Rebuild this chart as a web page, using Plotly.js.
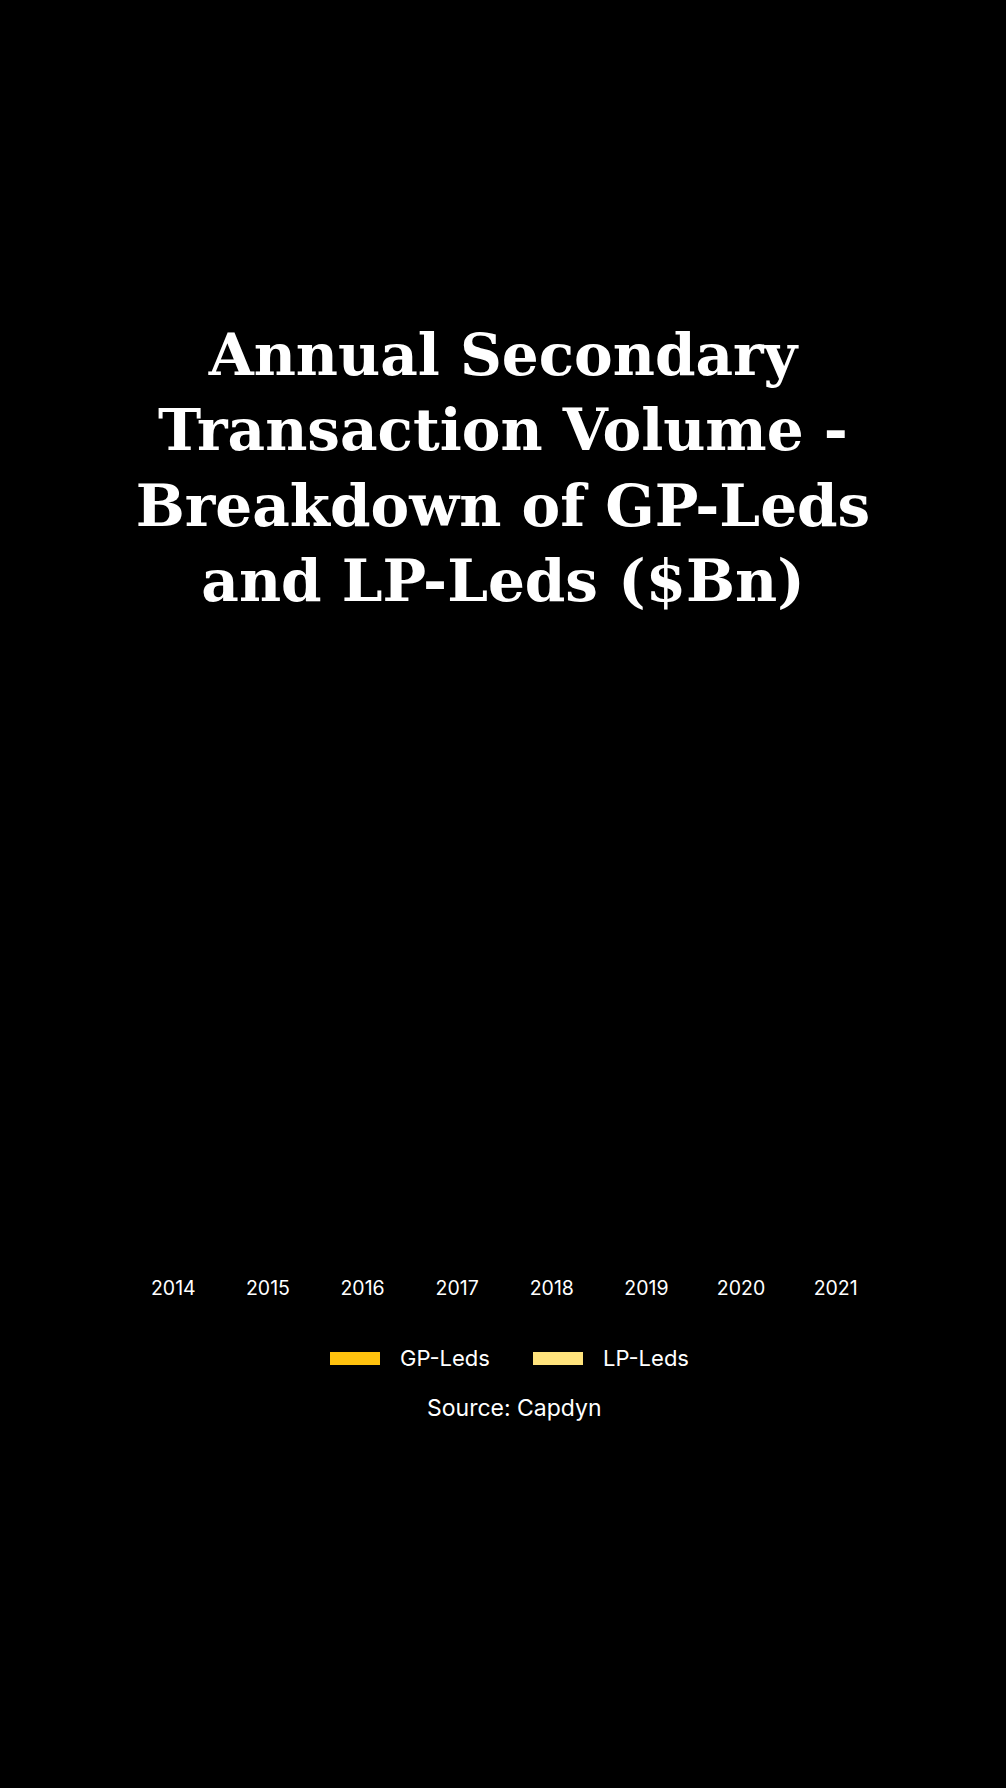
<!DOCTYPE html>
<html>
<head>
<meta charset="utf-8">
<script src="https://cdn.plot.ly/plotly-3.0.1.min.js"></script>
<style>html,body{margin:0;padding:0;background:#000;}#chart{width:1006px;height:1788px;}</style>
</head>
<body>
<div id="chart"></div>
<script>
// Categories (years)
var years = ['2014', '2015', '2016', '2017', '2018', '2019', '2020', '2021'];
// Series values as they appear in the picture (no visible bar height)
var gpLeds = [0, 0, 0, 0, 0, 0, 0, 0];
var lpLeds = [0, 0, 0, 0, 0, 0, 0, 0];
var seriesNames = ['GP-Leds', 'LP-Leds'];
var seriesColors = ['#FFC20E', '#FFE37C'];
var titleText = 'Annual Secondary<br>Transaction Volume -<br>Breakdown of GP-Leds<br>and LP-Leds ($Bn)';
var sourceText = 'Source: Capdyn';

var traces = [
  {type: 'bar', name: seriesNames[0], x: years, y: gpLeds, marker: {color: seriesColors[0]}, hoverinfo: 'skip', showlegend: false},
  {type: 'bar', name: seriesNames[1], x: years, y: lpLeds, marker: {color: seriesColors[1]}, hoverinfo: 'skip', showlegend: false}
];

// plot area geometry (pixels) used to place the custom legend
var W = 1006, H = 1788, mL = 126, mR = 123, mT = 640, mB = 516;
var pw = W - mL - mR, ph = H - mT - mB, pBottom = H - mB;
function px(x) { return (x - mL) / pw; }
function py(y) { return (pBottom - y) / ph; }

var legendFont = {family: 'Inter, Roboto, sans-serif', size: 22, color: '#ffffff'};
var sourceFont = {family: 'Inter, Roboto, sans-serif', size: 23, color: '#ffffff'};
var swatchX = [330, 533];
var shapes = [], annotations = [];
seriesNames.forEach(function (name, i) {
  shapes.push({
    type: 'rect', xref: 'paper', yref: 'paper',
    x0: px(swatchX[i]), x1: px(swatchX[i] + 50),
    y0: py(1365), y1: py(1352),
    fillcolor: seriesColors[i], line: {width: 0}
  });
  annotations.push({
    text: name, xref: 'paper', yref: 'paper',
    x: px(swatchX[i] + 68), xanchor: 'left',
    y: py(1358), yanchor: 'middle',
    showarrow: false, font: legendFont
  });
});
annotations.push({
  text: sourceText,
  xref: 'paper', yref: 'paper',
  x: px(514), xanchor: 'center',
  y: py(1408), yanchor: 'middle',
  showarrow: false, font: sourceFont
});

var layout = {
  width: W,
  height: H,
  paper_bgcolor: '#000000',
  plot_bgcolor: '#000000',
  barmode: 'stack',
  margin: {l: mL, r: mR, t: mT, b: mB},
  title: {
    text: titleText,
    font: {family: 'DejaVu Serif, Liberation Serif, serif', size: 58, color: '#ffffff', weight: 'bold'},
    x: 0.5, xanchor: 'center',
    xref: 'container', yref: 'container',
    y: 1 - 375 / 1788, yanchor: 'middle'
  },
  xaxis: {
    type: 'category',
    showgrid: false, zeroline: false, showline: false, ticks: '',
    tickfont: {family: 'Inter, Roboto, sans-serif', size: 19.5, color: '#ffffff'},
    ticklabelstandoff: 2
  },
  yaxis: {visible: false, showgrid: false, zeroline: false},
  showlegend: false,
  shapes: shapes,
  annotations: annotations
};

Plotly.newPlot('chart', traces, layout, {displayModeBar: false, staticPlot: true});
</script>
</body>
</html>
